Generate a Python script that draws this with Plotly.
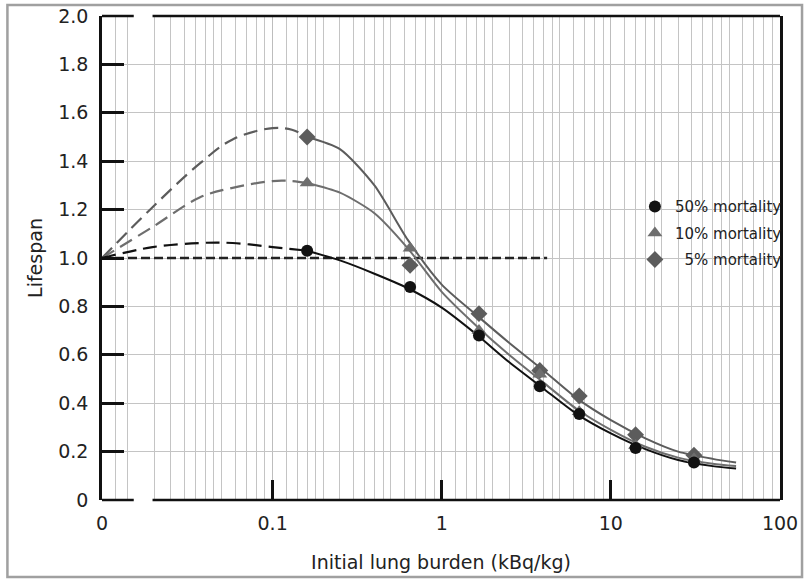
import plotly.graph_objects as go

# ---- data -------------------------------------------------------------
ZERO_POS = 0.0098          # where dose "0" sits on the broken log axis
zero_life = 1.0

dose_pts = [0.16, 0.65, 1.66, 3.8, 6.5, 14, 31]
life50_pts = [1.03, 0.88, 0.68, 0.47, 0.355, 0.215, 0.155]
life10_pts = [1.31, 1.04, 0.70, 0.52, 0.365, 0.225, 0.17]
life5_pts = [1.50, 0.97, 0.77, 0.535, 0.43, 0.27, 0.185]

fit_x = [0.16, 0.25, 0.4, 0.63, 1.0, 1.6, 2.5, 4.0, 6.3, 10, 16, 25, 40, 55]
fit50 = [1.03, 0.99, 0.935, 0.875, 0.795, 0.685, 0.57, 0.46, 0.355, 0.275, 0.21, 0.165, 0.14, 0.13]
fit10 = [1.31, 1.27, 1.185, 1.04, 0.86, 0.72, 0.60, 0.485, 0.375, 0.29, 0.22, 0.175, 0.15, 0.14]
fit5 = [1.50, 1.45, 1.30, 1.075, 0.89, 0.765, 0.65, 0.535, 0.42, 0.33, 0.255, 0.20, 0.17, 0.155]

dash_x = [ZERO_POS, 0.0195, 0.037, 0.058, 0.1, 0.13, 0.16]
dash50 = [1.0, 1.045, 1.062, 1.062, 1.045, 1.037, 1.03]
dash10 = [1.0, 1.128, 1.25, 1.29, 1.318, 1.318, 1.31]
dash5 = [1.0, 1.21, 1.39, 1.49, 1.537, 1.53, 1.50]

ref_x = [ZERO_POS, 4.2]
ref_y = [1.0, 1.0]

x_tickvals = [ZERO_POS, 0.1, 1, 10, 100]
x_ticktext = ["0", "0.1", "1", "10", "100"]
y_tickvals = [0, 0.2, 0.4, 0.6, 0.8, 1.0, 1.2, 1.4, 1.6, 1.8, 2.0]
y_ticktext = ["0", "0.2", "0.4", "0.6", "0.8", "1.0", "1.2", "1.4", "1.6", "1.8", "2.0"]

names = ["50% mortality", "10% mortality", "\u20075% mortality"]

# fine vertical grid positions (axis decoration, drawn by an overlay axis)
grid_mult = [1.2, 1.4, 1.6, 1.8, 2, 2.5, 3, 3.5, 4, 4.5, 5, 6, 7, 8, 9]
fine_grid = [0.0118, 0.0139, 0.02, 0.025, 0.03, 0.035, 0.04, 0.045, 0.05,
             0.06, 0.07, 0.08, 0.09]
for e in (-1, 0, 1):
    fine_grid += [m * 10 ** e for m in grid_mult]

# axis break limits (data units)
GAP_L, GAP_R = 0.0151, 0.0195
X_MAX = 100

# ---- styles -------------------------------------------------------------
FONT = "DejaVu Sans"
C50, C10, C5 = "#111111", "#6e6e6e", "#5c5c5c"

fig = go.Figure()

# empty trace that anchors the overlay grid axis
fig.add_trace(go.Scatter(x=[], y=[], xaxis="x2", showlegend=False,
                         hoverinfo="skip"))

fig.add_trace(go.Scatter(x=ref_x, y=ref_y, mode="lines", showlegend=False,
                         line=dict(color="#222", width=2.5, dash="9px,4px"),
                         hoverinfo="skip"))

for y, c in ((dash5, C5), (dash10, C10), (dash50, C50)):
    fig.add_trace(go.Scatter(x=dash_x, y=y, mode="lines", showlegend=False,
                             line=dict(color=c, width=2.2, dash="14px,7px",
                                       shape="spline", smoothing=1.0),
                             hoverinfo="skip"))

for y, c in ((fit5, C5), (fit10, C10), (fit50, C50)):
    fig.add_trace(go.Scatter(x=fit_x, y=y, mode="lines", showlegend=False,
                             line=dict(color=c, width=2, shape="spline",
                                       smoothing=0.7),
                             hoverinfo="skip"))

fig.add_trace(go.Scatter(x=dose_pts, y=life5_pts, mode="markers", name=names[2],
                         legendgroup="c", legendrank=3,
                         marker=dict(symbol="diamond", size=13, color=C5)))
fig.add_trace(go.Scatter(x=dose_pts, y=life10_pts, mode="markers", name=names[1],
                         legendgroup="b", legendrank=2,
                         marker=dict(symbol="triangle-up", size=13, color=C10)))
fig.add_trace(go.Scatter(x=dose_pts, y=life50_pts, mode="markers", name=names[0],
                         legendgroup="a", legendrank=1,
                         marker=dict(symbol="circle", size=12, color=C50)))
fig.add_trace(go.Scatter(x=[ZERO_POS], y=[zero_life], mode="markers",
                         showlegend=False, cliponaxis=False,
                         marker=dict(symbol="circle", size=12, color=C50)))

FRAME = dict(color="#111", width=2.5)
shapes = [
    dict(type="rect", xref="x", yref="paper", x0=GAP_L, x1=GAP_R,
         y0=0, y1=1, fillcolor="white", line=dict(width=0), layer="below"),
    dict(type="line", xref="x", yref="paper", x0=ZERO_POS, x1=GAP_L,
         y0=0, y1=0, line=FRAME),
    dict(type="line", xref="x", yref="paper", x0=GAP_R, x1=X_MAX,
         y0=0, y1=0, line=FRAME),
    dict(type="line", xref="x", yref="paper", x0=ZERO_POS, x1=GAP_L,
         y0=1, y1=1, line=FRAME),
    dict(type="line", xref="x", yref="paper", x0=GAP_R, x1=X_MAX,
         y0=1, y1=1, line=FRAME),
    dict(type="rect", xref="paper", yref="paper", x0=-0.1395, x1=1.0325,
         y0=-0.159, y1=1.0227, line=dict(color="#a0a0a0", width=2.5),
         layer="below"),
]

XR = [-2.00877, 2]   # log10 range: ZERO_POS .. 100

fig.update_layout(
    width=809, height=586,
    margin=dict(l=102, r=29, t=16, b=86, autoexpand=False),
    paper_bgcolor="white", plot_bgcolor="white",
    font=dict(family=FONT, size=19, color="#222"),
    shapes=shapes,
    showlegend=True,
    legend=dict(x=0.786, y=0.64, xanchor="left", yanchor="top",
                bgcolor="rgba(0,0,0,0)", font=dict(size=15, color="#222"),
                traceorder="grouped", tracegroupgap=4, itemwidth=30),
    xaxis=dict(
        type="log", range=XR, automargin=False,
        tickmode="array", tickvals=x_tickvals, ticktext=x_ticktext,
        ticks="inside", ticklen=20, tickwidth=2.5, tickcolor="#111",
        ticklabelstandoff=10,
        showgrid=True, gridcolor="#bdbdbd", gridwidth=1,
        showline=False, zeroline=False,
        title=dict(text="Initial lung burden (kBq/kg)", standoff=22,
                   font=dict(size=19)),
    ),
    xaxis2=dict(
        type="log", range=XR, overlaying="x", anchor="y", side="bottom",
        automargin=False, tickmode="array", tickvals=fine_grid,
        showticklabels=False, ticks="", showgrid=True,
        gridcolor="#c4c4c4", gridwidth=1, showline=False, zeroline=False,
    ),
    yaxis=dict(
        range=[0, 2], automargin=False,
        tickmode="array", tickvals=y_tickvals, ticktext=y_ticktext,
        ticks="inside", ticklen=22, tickwidth=2.5, tickcolor="#111",
        ticklabelstandoff=7,
        showgrid=True, gridcolor="#c4c4c4", gridwidth=1,
        showline=True, linewidth=2.5, linecolor="#111", mirror=True,
        zeroline=False,
        title=dict(text="Lifespan", standoff=11, font=dict(size=19)),
    ),
)

fig.write_html("out.html", config={"displayModeBar": False},
               post_script="document.body.style.margin='0px';")
